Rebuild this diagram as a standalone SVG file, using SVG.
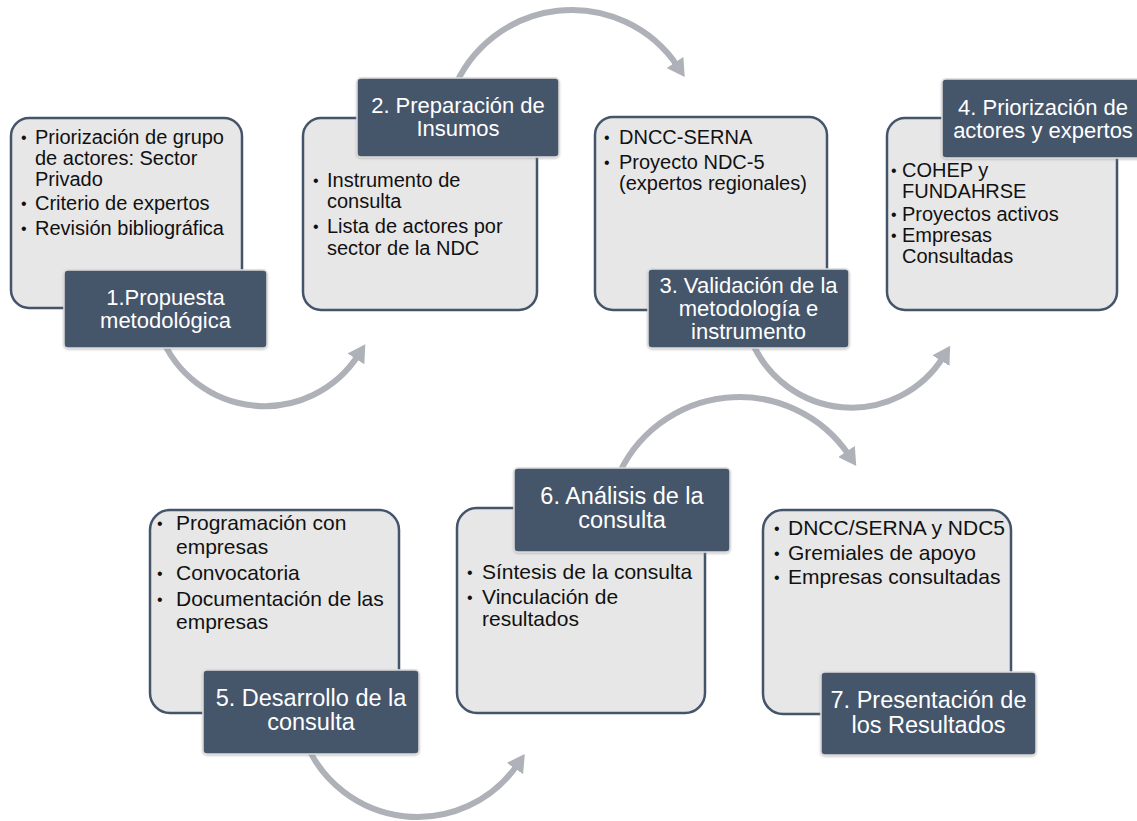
<svg xmlns="http://www.w3.org/2000/svg" width="1137" height="821" viewBox="0 0 1137 821">
<style>
.lb{fill:#E7E7E7;stroke:#44546A;stroke-width:2.5}
.db{fill:#44546A;stroke:#DDDDDD;stroke-width:1.5}
.dt{font-family:"Liberation Sans",Arial,sans-serif;font-size:22px;fill:#FFFFFF;text-anchor:middle}
.dt2{font-family:"Liberation Sans",Arial,sans-serif;font-size:23.5px;fill:#FFFFFF;text-anchor:middle}
.lt{font-family:"Liberation Sans",Arial,sans-serif;font-size:20px;fill:#111111}
.lt2{font-family:"Liberation Sans",Arial,sans-serif;font-size:21px;fill:#111111}
.bu{font-family:"Liberation Sans",Arial,sans-serif;font-size:16px;fill:#111111}
.arc{fill:none;stroke:#AEB1B8;stroke-width:6;marker-end:url(#ah)}
</style>
<defs>
<marker id="ah" markerUnits="userSpaceOnUse" markerWidth="20" markerHeight="20" refX="4" refY="8" orient="auto" viewBox="0 0 16 16">
<path d="M0,0 L14,8 L0,16 Z" fill="#AEB1B8"/>
</marker>
<filter id="sh" x="-10%" y="-10%" width="120%" height="130%">
<feDropShadow dx="0" dy="1" stdDeviation="1.2" flood-color="#888888" flood-opacity="0.45"/>
</filter>
</defs>
<rect width="1137" height="821" fill="#FFFFFF"/>
<g id="connectors">
<path class="arc" d="M 160.6 335 A 111.6 111.6 0 0 0 358.6 354.7"/>
<path class="arc" d="M 452.7 92 A 127.5 127.5 0 0 1 677.8 66.6"/>
<path class="arc" d="M 751.2 340 A 108.3 108.3 0 0 0 943.6 356.4"/>
<path class="arc" d="M 304.7 740 A 121.4 121.4 0 0 0 517.7 764.4"/>
<path class="arc" d="M 616.4 480 A 132.5 132.5 0 0 1 849.3 455.6"/>
</g>
<g id="node1">
<rect class="lb" x="11" y="118" width="231" height="190" rx="18"/>
<text class="bu" x="21" y="143">•</text><text class="lt" x="35" y="144">Priorización de grupo</text>
<text class="lt" x="35" y="165">de actores: Sector</text>
<text class="lt" x="35" y="186">Privado</text>
<text class="bu" x="21" y="209">•</text><text class="lt" x="35" y="210">Criterio de expertos</text>
<text class="bu" x="21" y="234">•</text><text class="lt" x="35" y="235">Revisión bibliográfica</text>
<rect class="db" filter="url(#sh)" x="64" y="270" width="203" height="78" rx="4"/>
<text class="dt" x="165.5" y="305">1.Propuesta</text>
<text class="dt" x="165.5" y="328">metodológica</text>
</g>
<g id="node2">
<rect class="lb" x="303" y="118" width="234" height="192" rx="18"/>
<text class="bu" x="313" y="186">•</text><text class="lt" x="327" y="187">Instrumento de</text>
<text class="lt" x="327" y="208">consulta</text>
<text class="bu" x="313" y="232">•</text><text class="lt" x="327" y="233">Lista de actores por</text>
<text class="lt" x="327" y="255">sector de la NDC</text>
<rect class="db" filter="url(#sh)" x="357" y="78" width="202" height="79" rx="4"/>
<text class="dt" x="458" y="113">2. Preparación de</text>
<text class="dt" x="458" y="136">Insumos</text>
</g>
<g id="node3">
<rect class="lb" x="595" y="117" width="232" height="193" rx="18"/>
<text class="bu" x="604" y="143">•</text><text class="lt" x="619" y="144">DNCC-SERNA</text>
<text class="bu" x="604" y="168">•</text><text class="lt" x="619" y="169">Proyecto NDC-5</text>
<text class="lt" x="619" y="190">(expertos regionales)</text>
<rect class="db" filter="url(#sh)" x="648" y="269" width="201" height="79" rx="4"/>
<text class="dt" x="748.5" y="293">3. Validación de la</text>
<text class="dt" x="748.5" y="316">metodología e</text>
<text class="dt" x="748.5" y="339">instrumento</text>
</g>
<g id="node4">
<rect class="lb" x="887" y="118" width="230" height="192" rx="18"/>
<text class="bu" x="891" y="176">•</text><text class="lt" x="902" y="177">COHEP y</text>
<text class="lt" x="902" y="198">FUNDAHRSE</text>
<text class="bu" x="891" y="220">•</text><text class="lt" x="902" y="221">Proyectos activos</text>
<text class="bu" x="891" y="241">•</text><text class="lt" x="902" y="242">Empresas</text>
<text class="lt" x="902" y="263">Consultadas</text>
<rect class="db" filter="url(#sh)" x="942" y="79" width="202" height="79" rx="4"/>
<text class="dt" x="1043" y="115">4. Priorización de</text>
<text class="dt" x="1043" y="138">actores y expertos</text>
</g>
<g id="node5">
<rect class="lb" x="150" y="510" width="249" height="203" rx="20"/>
<text class="bu" x="157" y="529">•</text><text class="lt2" x="176" y="530">Programación con</text>
<text class="lt2" x="176" y="554">empresas</text>
<text class="bu" x="157" y="579">•</text><text class="lt2" x="176" y="580">Convocatoria</text>
<text class="bu" x="157" y="605">•</text><text class="lt2" x="176" y="606">Documentación de las</text>
<text class="lt2" x="176" y="629">empresas</text>
<rect class="db" filter="url(#sh)" x="203" y="670" width="216" height="84" rx="4"/>
<text class="dt2" x="311" y="706">5. Desarrollo de la</text>
<text class="dt2" x="311" y="730">consulta</text>
</g>
<g id="node6">
<rect class="lb" x="457" y="508" width="248" height="205" rx="20"/>
<text class="bu" x="467" y="578">•</text><text class="lt2" x="482" y="579">Síntesis de la consulta</text>
<text class="bu" x="467" y="603">•</text><text class="lt2" x="482" y="604">Vinculación de</text>
<text class="lt2" x="482" y="626">resultados</text>
<rect class="db" filter="url(#sh)" x="514" y="468" width="216" height="84" rx="4"/>
<text class="dt2" x="622" y="504">6. Análisis de la</text>
<text class="dt2" x="622" y="528">consulta</text>
</g>
<g id="node7">
<rect class="lb" x="763" y="510" width="248" height="204" rx="20"/>
<text class="bu" x="774" y="534">•</text><text class="lt2" x="788" y="535">DNCC/SERNA y NDC5</text>
<text class="bu" x="774" y="559">•</text><text class="lt2" x="788" y="560">Gremiales de apoyo</text>
<text class="bu" x="774" y="583">•</text><text class="lt2" x="788" y="584">Empresas consultadas</text>
<rect class="db" filter="url(#sh)" x="821" y="672" width="215" height="83" rx="4"/>
<text class="dt2" x="928.5" y="708">7. Presentación de</text>
<text class="dt2" x="928.5" y="733">los Resultados</text>
</g>
</svg>
